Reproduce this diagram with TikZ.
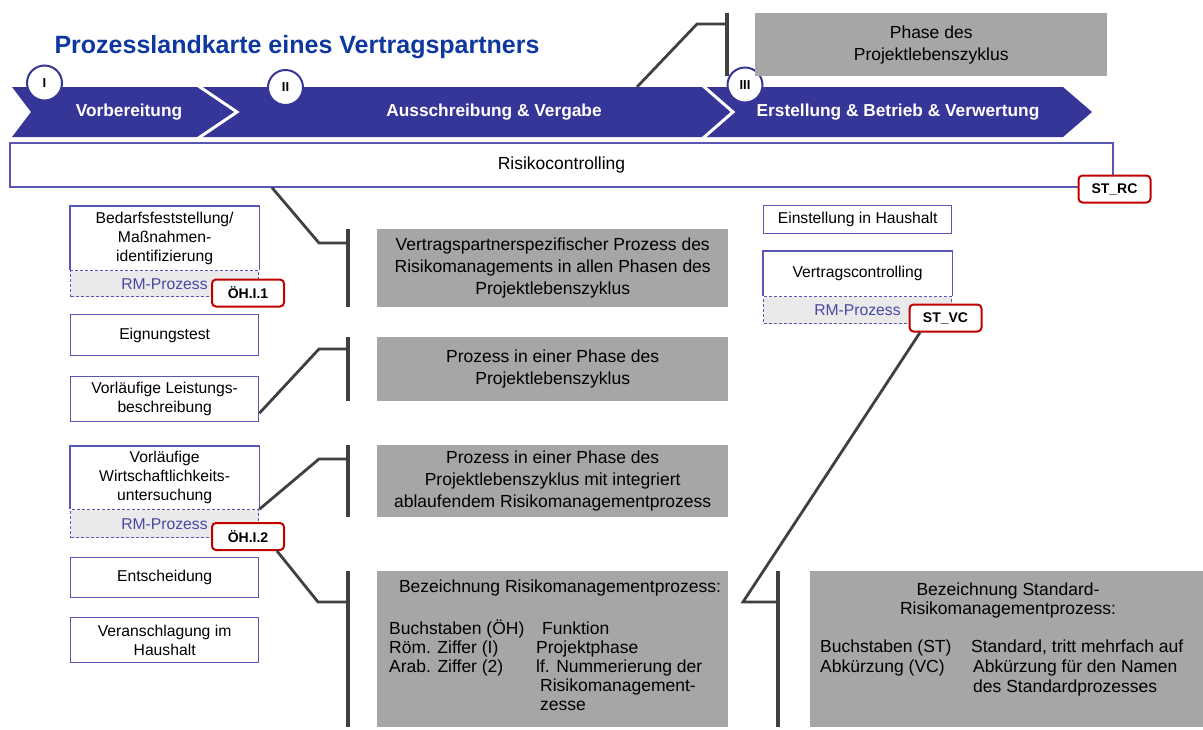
\documentclass[tikz,border=0pt]{standalone}
\usepackage{fontspec}
\setmainfont{Liberation Sans}
\usetikzlibrary{positioning}
\definecolor{bandblue}{RGB}{54,53,152}
\definecolor{titleblue}{RGB}{14,56,160}
\definecolor{boxblue}{RGB}{88,88,180}
\definecolor{rmblue}{RGB}{72,72,168}
\definecolor{rmgray}{RGB}{234,234,234}
\definecolor{notegray}{RGB}{166,166,166}
\definecolor{linegray}{RGB}{64,64,64}
\definecolor{tagred}{RGB}{192,0,0}

\begin{document}
\begin{tikzpicture}[x=1pt, y=-1pt,
    phasetext/.style={text=white, font=\bfseries\fontsize{17.3}{20}\selectfont},
    numc/.style={circle, draw=bandblue, line width=2pt, fill=white, minimum size=35pt, inner sep=0pt, font=\bfseries\fontsize{13}{15}\selectfont},
    box/.style={draw=boxblue, line width=1.3pt, fill=white, anchor=north west, minimum width=188pt, inner sep=0pt, align=center, font=\fontsize{15.7}{19}\selectfont},
    boxline/.style={draw=boxblue, line width=1.3pt},
    rmbox/.style={box, dash pattern=on 3pt off 2pt, line width=1pt, fill=rmgray, text=rmblue},
    tag/.style={draw=tagred, line width=2pt, rounded corners=4pt, fill=white, minimum width=72pt, minimum height=27pt, inner sep=0pt, font=\bfseries\fontsize{14}{16}\selectfont},
    note/.style={fill=notegray, anchor=north west, inner sep=0pt, align=center, font=\fontsize{17.5}{22}\selectfont},
    notetext/.style={inner sep=0pt, font=\fontsize{17.5}{22}\selectfont, text height=12.5pt, text depth=3.5pt},
    brace/.style={draw=linegray, line width=4pt},
    leader/.style={draw=linegray, line width=2.8pt, line join=miter}]
    \useasboundingbox (0,0) rectangle (1203,729);
    % Title
    \node[anchor=west, text=titleblue, font=\bfseries\fontsize{25}{30}\selectfont] (title) at (51,47) {Prozesslandkarte eines Vertragspartners};
    % Phase band
    \fill[bandblue] (12,87) -- (1063,87) -- (1092,112) -- (1063,137) -- (12,137) -- (31,112) -- cycle;
    \draw[white, line width=3pt] (197,85) -- (237,112) -- (197,139);
    \draw[white, line width=3pt] (702,85) -- (733,112) -- (702,139);
    \coordinate (bandtop) at (637,87);
    \node[phasetext] (p1) at (129,112) {Vorbereitung};
    \node[phasetext] (p2) at (494,112) {Ausschreibung \& Vergabe};
    \node[phasetext] (p3) at (898,112) {Erstellung \& Betrieb \& Verwertung};
    \node[numc] (c1) at (44.5,83) {I};
    \node[numc] (c2) at (285.5,87.5) {II};
    \node[numc] (c3) at (745,85) {III};
    % Risikocontrolling
    \node[draw=boxblue, line width=1.3pt, fill=white, minimum width=1103pt, minimum height=44pt, inner sep=0pt, font=\fontsize{17.5}{21}\selectfont] (rc) at (561.5,165) {Risikocontrolling};
    \node[tag] (strc) at (1114.5,189) {ST\_RC};
    % Left column
    \node[box, draw=none, minimum height=63pt] (b1) at (70,206) {Bedarfsfeststellung/\\Maßnahmen-\\identifizierung};
    \node[rmbox, minimum height=26pt] (r1) at (b1.south west) {RM-Prozess};
    \draw[boxline] (b1.south west) |- (b1.north east) -- (b1.south east);
    \node[tag] (t1) at (248,293) {ÖH.I.1};
    \node[box, minimum height=41pt] (b2) at (70,314) {Eignungstest};
    \node[box, minimum height=45pt] (b3) at (70,376) {Vorläufige Leistungs-\\beschreibung};
    \node[box, draw=none, minimum height=62pt] (b4) at (70,446) {Vorläufige\\Wirtschaftlichkeits-\\untersuchung};
    \node[rmbox, minimum height=28pt] (r4) at (b4.south west) {RM-Prozess};
    \draw[boxline] (b4.south west) |- (b4.north east) -- (b4.south east);
    \node[tag] (t2) at (248,536.5) {ÖH.I.2};
    \node[box, minimum height=40pt] (b5) at (70,557) {Entscheidung};
    \node[box, minimum height=45pt] (b6) at (70,617) {Veranschlagung im\\Haushalt};
    % Right column
    \node[box, minimum height=28pt] (b7) at (763,205) {Einstellung in Haushalt};
    \node[box, draw=none, minimum height=44pt] (b8) at (763,251) {Vertragscontrolling};
    \node[rmbox, minimum height=27pt] (r8) at (b8.south west) {RM-Prozess};
    \draw[boxline] (b8.south west) |- (b8.north east) -- (b8.south east);
    \node[tag] (t3) at (945.5,318) {ST\_VC};
    % Legend notes
    \node[note, minimum width=352pt, minimum height=63pt] (g0) at (755,13) {Phase des\\Projektlebenszyklus};
    \node[note, minimum width=351pt, minimum height=78pt] (g1) at (377,229) {Vertragspartnerspezifischer Prozess des\\Risikomanagements in allen Phasen des\\Projektlebenszyklus};
    \node[note, minimum width=351pt, minimum height=64pt] (g2) at (377,337) {Prozess in einer Phase des\\Projektlebenszyklus};
    \node[note, minimum width=351pt, minimum height=72pt] (g3) at (377,445) {Prozess in einer Phase des\\Projektlebenszyklus mit integriert\\ablaufendem Risikomanagementprozess};
    \node[note, minimum width=351pt, minimum height=156pt] (g4) at (377,571) {};
    \node[note, minimum width=393pt, minimum height=156pt] (g5) at (810,571) {};
    % Naming scheme texts
    \node[notetext] (g4h) at (560,588) {Bezeichnung Risikomanagementprozess:};
    \foreach \n/\x/\y/\t in {a/389/630/Buchstaben (ÖH), b/389/649/Röm. Ziffer (I), c/389/668/Arab. Ziffer (2),
        d/542/630/Funktion, e/536/649/Projektphase, f/536/668/lf. Nummerierung der, g/540/687/Risikomanagement-, h/540/706/zesse}
        \node[notetext, anchor=west] (g4\n) at (\x,\y) {\t};
    \node[notetext] (g5h) at (1008,591) {Bezeichnung Standard-};
    \node[notetext] (g5i) at (1008,610) {Risikomanagementprozess:};
    \foreach \n/\x/\y/\t in {a/820/648/Buchstaben (ST), b/820/668/Abkürzung (VC), c/971/648/{Standard, tritt mehrfach auf},
        d/973/668/Abkürzung für den Namen, e/973/688/des Standardprozesses}
        \node[notetext, anchor=west] (g5\n) at (\x,\y) {\t};
    % Brackets
    \coordinate (g0b) at ([xshift=-28pt]g0.west);
    \coordinate (g1b) at ([xshift=-29pt]g1.west);
    \coordinate (g2b) at ([xshift=-29pt]g2.west);
    \coordinate (g3b) at ([xshift=-29pt]g3.west);
    \coordinate (g4b) at ([xshift=-29pt]g4.west);
    \coordinate (g5b) at ([xshift=-32pt]g5.west);
    \foreach \g in {g0,g1,g2,g3,g4,g5}
        \draw[brace] (\g b |- \g.north) -- (\g b |- \g.south);
    % Leaders
    \coordinate (k0) at (697,24);
    \coordinate (k1) at (319,243);
    \coordinate (k2) at (319,349);
    \coordinate (k3) at (319,459);
    \coordinate (k4) at (318,602);
    \coordinate (k5) at (743,602);
    \coordinate (a1) at (272,0);
    \draw[leader] (bandtop) -- (k0) -- (k0 -| g0b);
    \draw[leader] (rc.south -| a1) -- (k1) -- (k1 -| g1b);
    \draw[leader] ([yshift=9pt]b3.south east) -- (k2) -- (k2 -| g2b);
    \draw[leader] (b4.south east) -- (k3) -- (k3 -| g3b);
    \draw[leader] ([xshift=29pt]t2.south) -- (k4) -- (k4 -| g4b);
    \draw[leader] ([xshift=-25.5pt]t3.south) -- (k5) -- (k5 -| g5b);
\end{tikzpicture}
\end{document}
